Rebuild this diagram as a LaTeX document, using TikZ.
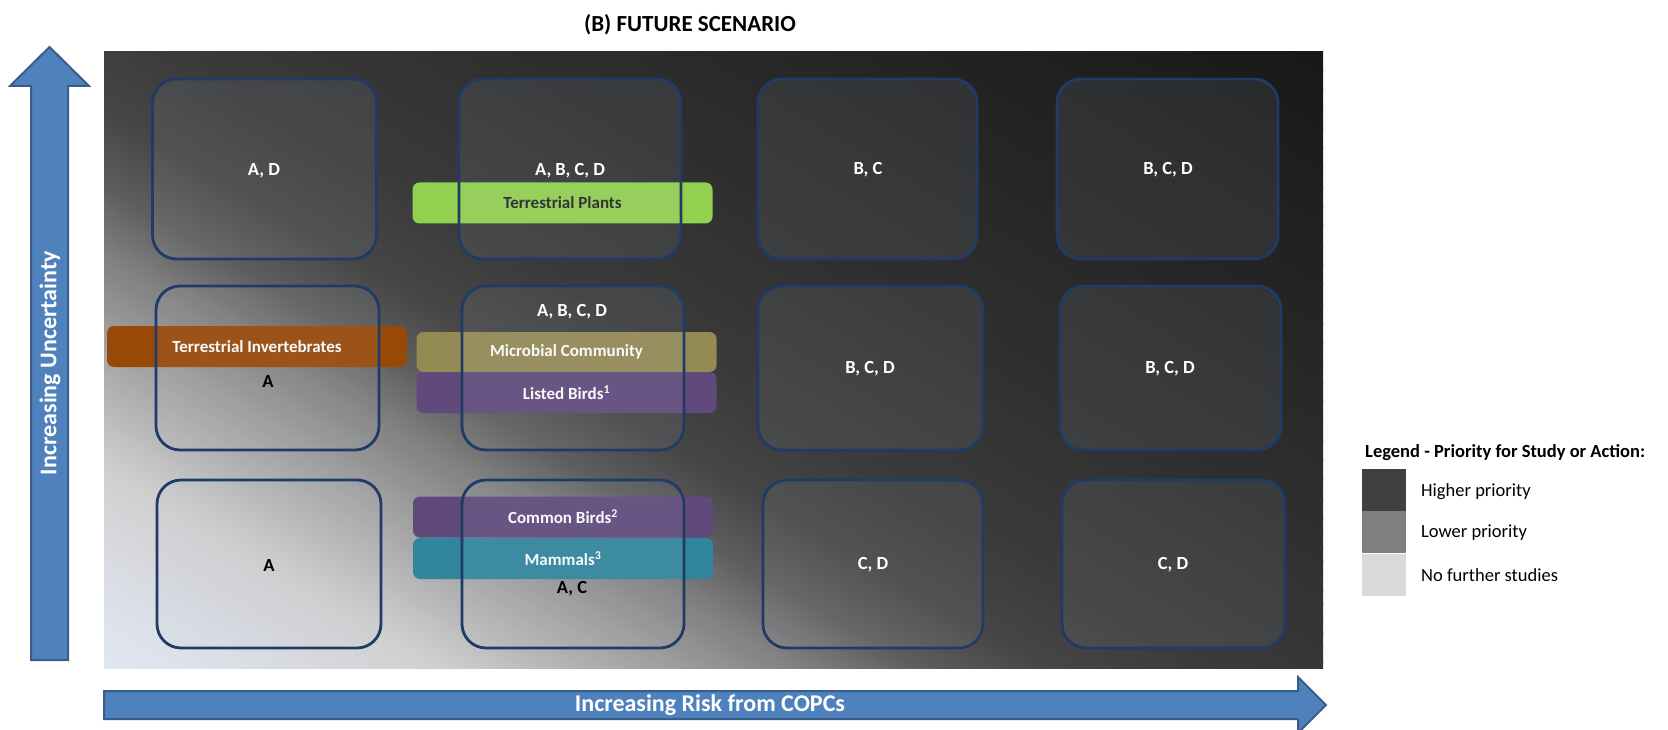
\documentclass[tikz,border=0pt]{standalone}
\usepackage{fontspec}
\setmainfont{Carlito}
\usetikzlibrary{calc}
\definecolor{g0}{HTML}{E1E7F3}
\definecolor{g1}{HTML}{D9DCE2}
\definecolor{g2}{HTML}{CFCFCF}
\definecolor{g3}{HTML}{B2B2B2}
\definecolor{g4}{HTML}{9A9A9A}
\definecolor{g5}{HTML}{808080}
\definecolor{g6}{HTML}{5E5E5E}
\definecolor{g7}{HTML}{454545}
\definecolor{g8}{HTML}{3A3A3A}
\definecolor{g9}{HTML}{2E2E2E}
\definecolor{g10}{HTML}{181818}
\definecolor{boxline}{HTML}{1F3B66}
\definecolor{boxfill}{HTML}{C0CAD8}
\definecolor{arrowfill}{HTML}{4F81BD}
\definecolor{arrowline}{HTML}{385D8A}
\definecolor{tpgreen}{HTML}{92D050}
\definecolor{tiorange}{HTML}{984807}
\definecolor{mcolive}{HTML}{948A54}
\definecolor{birdpurple}{HTML}{604A7B}
\definecolor{mamaqua}{HTML}{31859C}
\definecolor{legdark}{HTML}{404040}
\definecolor{legmid}{HTML}{808080}
\definecolor{leglight}{HTML}{D9D9D9}
\begin{document}
\begin{tikzpicture}[x=1pt,y=-1pt,
  cell/.style={draw=boxline, line width=2.8pt, rounded corners=24pt, fill=boxfill, fill opacity=0.09, inner sep=0pt},
  lblw/.style={text=white, font=\bfseries\fontsize{18.5}{22}\selectfont},
  lblb/.style={text=black, font=\bfseries\fontsize{18.5}{22}\selectfont},
  bar/.style={rounded corners=7pt, inner sep=0pt, minimum width=300pt, minimum height=41pt, text=white, font=\bfseries\fontsize{17}{20}\selectfont},
  blockarrow/.style={fill=arrowfill, draw=arrowline, line width=2pt, line join=miter},
  axislbl/.style={text=white, font=\bfseries\fontsize{24}{28}\selectfont},
  legtxt/.style={anchor=west, inner sep=0pt, font=\fontsize{18.5}{22}\selectfont},
  swatch/.style={minimum width=44pt, minimum height=42pt, inner sep=0pt}]
\useasboundingbox (0,0) rectangle (1668,730);
\clip (0,0) rectangle (1668,730);
% title
\node[font=\bfseries\fontsize{23}{28}\selectfont] (title) at (690,25) {(B) FUTURE SCENARIO};
% panel with diagonal gradient (drawn as thin strips)
\begin{scope}[shift={(104,668)}, x=1219pt, y=616pt]
  \clip (0,0) rectangle (1,1);
  \foreach \ta/\tb/\ca/\cb/\n in {-0.3/0/g0/g0/1, 0/0.08/g0/g1/12, 0.08/0.15/g1/g2/12, 0.15/0.21/g2/g3/14, 0.21/0.26/g3/g4/14, 0.26/0.31/g4/g5/14, 0.31/0.36/g5/g6/16, 0.36/0.42/g6/g7/16, 0.42/0.5/g7/g8/12, 0.5/0.65/g8/g9/14, 0.65/1/g9/g10/24, 1/1.3/g10/g10/1} {
    \foreach \k in {1,...,\n} {
      \pgfmathsetmacro\cA{\ta+(\tb-\ta)*(\k-1)/\n}
      \pgfmathsetmacro\cB{\ta+(\tb-\ta)*\k/\n+0.002}
      \pgfmathsetmacro\p{(\k-0.5)*100/\n}
      \fill[\cb!\p!\ca] ({(2.17*\cA+0.5)/1.17},-0.5) -- ({(2.17*\cA-1.5)/1.17},1.5) -- ({(2.17*\cB-1.5)/1.17},1.5) -- ({(2.17*\cB+0.5)/1.17},-0.5) -- cycle;
    }
  }
\end{scope}
% bars
\node[bar, fill=tpgreen, text=black!85] (tp) at (562.5,203) {Terrestrial Plants};
\node[bar, fill=tiorange] (ti) at (257,346.5) {Terrestrial Invertebrates};
\node[bar, fill=mcolive, minimum height=40pt] (mc) at (566.5,352) {Microbial Community};
\node[bar, fill=birdpurple] (lb) at (566.5,392.5) {Listed Birds\textsuperscript{1}};
\node[bar, fill=birdpurple] (cb) at (563,517) {Common Birds\textsuperscript{2}};
\node[bar, fill=mamaqua] (mm) at (563,558.5) {Mammals\textsuperscript{3}};
% boxes
\node[cell, minimum width=224pt, minimum height=180pt] (c11) at (264.5,169) {};
\node[cell, minimum width=222pt, minimum height=180pt] (c12) at (570,169) {};
\node[cell, minimum width=219pt, minimum height=180pt] (c13) at (867.5,169) {};
\node[cell, minimum width=221pt, minimum height=180pt] (c14) at (1167.5,169) {};
\node[cell, minimum width=223pt, minimum height=164pt] (c21) at (267.5,368) {};
\node[cell, minimum width=222pt, minimum height=164pt] (c22) at (573,368) {};
\node[cell, minimum width=225pt, minimum height=164pt] (c23) at (870.5,368) {};
\node[cell, minimum width=221pt, minimum height=164pt] (c24) at (1170.5,368) {};
\node[cell, minimum width=224pt, minimum height=168pt] (c31) at (269,564) {};
\node[cell, minimum width=222pt, minimum height=168pt] (c32) at (573,564) {};
\node[cell, minimum width=220pt, minimum height=168pt] (c33) at (873,564) {};
\node[cell, minimum width=223pt, minimum height=168pt] (c34) at (1173.5,564) {};
% labels
\node[lblw] (l11) at (264,171) {A, D};
\node[lblw] (l12) at (570,171) {A, B, C, D};
\node[lblw] (l13) at (868,170) {B, C};
\node[lblw] (l14) at (1168,170) {B, C, D};
\node[lblw] (l22) at (572,312) {A, B, C, D};
\node[lblb] (l21) at (268,382) {A};
\node[lblw] (l23) at (870,369) {B, C, D};
\node[lblw] (l24) at (1170,369) {B, C, D};
\node[lblb] (l31) at (269,565) {A};
\node[lblb] (l32) at (572,589) {A, C};
\node[lblw] (l33) at (873,565) {C, D};
\node[lblw] (l34) at (1173,565) {C, D};
% axes
\draw[blockarrow] (31,660) -- (31,86) -- (10,86) -- (49.5,47) -- (89,86) -- (68,86) -- (68,660) -- cycle;
\node[axislbl, rotate=90] (yl) at (50,363) {Increasing Uncertainty};
\draw[blockarrow] (104,691) -- (1298,691) -- (1298,677) -- (1326,705) -- (1298,733) -- (1298,719) -- (104,719) -- cycle;
\node[axislbl] (xl) at (710,705) {Increasing Risk from COPCs};
% legend
\node[anchor=west, inner sep=0pt, font=\bfseries\fontsize{18.5}{22}\selectfont] (legt) at (1365,453) {Legend - Priority for Study or Action:};
\node[swatch, fill=legdark] (s1) at (1384,490) {};
\node[swatch, fill=legmid] (s2) at (1384,532) {};
\node[swatch, fill=leglight] (s3) at (1384,574.5) {};
\node[legtxt] (t1) at (1421,492) {Higher priority};
\node[legtxt] (t2) at (1421,533) {Lower priority};
\node[legtxt] (t3) at (1421,575) {No further studies};
\end{tikzpicture}
\end{document}
